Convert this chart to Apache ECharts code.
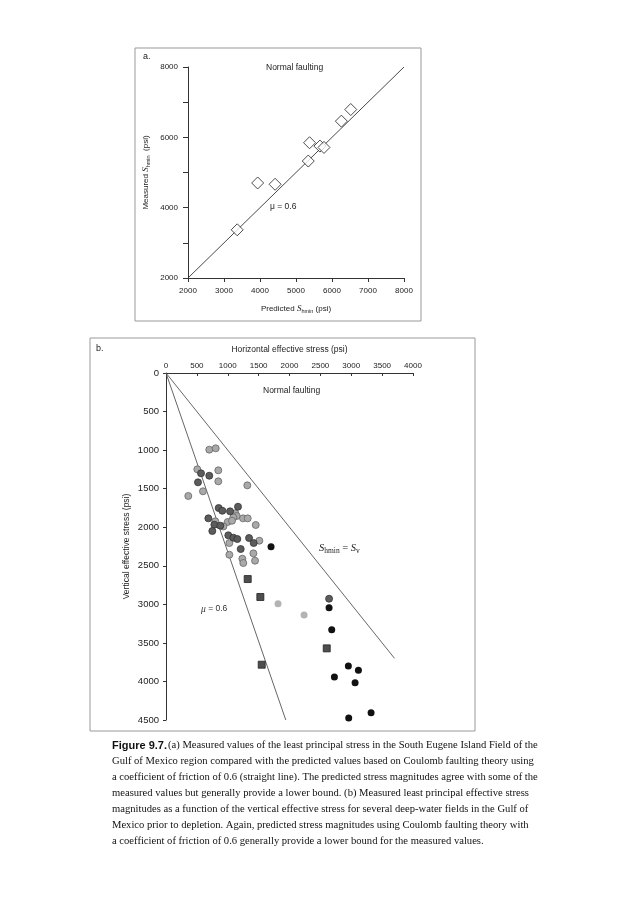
<!DOCTYPE html>
<html><head><meta charset="utf-8">
<script src="https://cdn.jsdelivr.net/npm/echarts@6/dist/echarts.min.js"></script>
<style>html,body{margin:0;padding:0;background:#fff}#c{width:633px;height:900px}</style>
</head><body><div id="c"></div>
<script>
// Panel a: predicted vs measured Shmin (psi)
const aTicks = [2000, 3000, 4000, 5000, 6000, 7000, 8000];
const aPredicted = [3367, 3935, 4419, 5340, 5377, 5665, 5777, 6260, 6521];
const aMeasured  = [3370, 4702, 4665, 5326, 5846, 5751, 5713, 6460, 6791];
const aLine = [[2000, 2000], [8000, 8000]];

// Panel b: [horizontal effective stress, vertical effective stress] (psi)
const bLight = [[701,994],[805,977],[507,1249],[847,1262],[847,1405],[599,1534],[1317,1457],[361,1595],
  [1123,1820],[1145,1855],[1091,1872],[1247,1885],[1323,1885],[799,1923],[999,1932],[1069,1916],[930,1990],
  [1453,1971],[1026,2205],[1512,2175],[1026,2357],[1415,2339],[1236,2408],[1252,2464],[1442,2434]];
const bDark = [[567,1301],[701,1332],[518,1418],[853,1751],[912,1786],[1037,1794],[1166,1734],[686,1885],
  [783,1967],[880,1980],[750,2049],[1009,2105],[1091,2136],[1155,2153],[1345,2140],[1420,2205],[1210,2283],[2641,2927]];
const bBlack = [[1701,2253],[2641,3044],[2684,3329],[2953,3800],[3116,3856],[2727,3943],[3062,4017],[3321,4406],[2959,4475]];
const bPale = [[1814,2992],[2236,3139]];
const bSquares = [[1323,2672],[1528,2905],[2603,3571],[1550,3783]];
const bMuLine = [[0,0],[1940,4500]];
const bEqualLine = [[0,0],[3700,3700]];

const captionLines = [
  "(a) Measured values of the least principal stress in the South Eugene Island Field of the",
  "Gulf of Mexico region compared with the predicted values based on Coulomb faulting theory using",
  "a coefficient of friction of 0.6 (straight line). The predicted stress magnitudes agree with some of the",
  "measured values but generally provide a lower bound. (b) Measured least principal effective stress",
  "magnitudes as a function of the vertical effective stress for several deep-water fields in the Gulf of",
  "Mexico prior to depletion. Again, predicted stress magnitudes using Coulomb faulting theory with",
  "a coefficient of friction of 0.6 generally provide a lower bound for the measured values."
];

const sans = "'Liberation Sans', Arial, sans-serif";
const serif = "'Liberation Serif', 'Times New Roman', serif";
const axC = '#333';
const plain = v => String(v);

const chart = echarts.init(document.getElementById('c'), null, {renderer: 'canvas'});

const circleStyle = (fill, border) => ({color: fill, borderColor: border, borderWidth: border ? 0.8 : 0, opacity: 1});

const captionGraphics = captionLines.map((t, i) => ({
  type: 'text', left: i === 0 ? 168 : 112, top: 740 + i * 16,
  style: {text: t, font: '10.6px ' + serif, fill: '#111'}
}));

chart.setOption({
  animation: false,
  grid: [
    {left: 188, top: 67, width: 216, height: 211},
    {left: 166, top: 373, width: 247, height: 347}
  ],
  xAxis: [
    {gridIndex: 0, type: 'value', min: 2000, max: 8000, interval: 1000,
     name: '{t|Predicted }{i|S}{s|hmin}{t| (psi)}', nameLocation: 'middle', nameGap: 26,
     nameTextStyle: {rich: {t: {fontFamily: sans, fontSize: 8, color: '#222'}, i: {fontFamily: serif, fontStyle: 'italic', fontSize: 9, color: '#222'}, s: {fontFamily: sans, fontSize: 5.5, color: '#222', verticalAlign: 'bottom', padding: [4,0,0,0]}}},
     axisLine: {lineStyle: {color: axC, width: 1}}, axisTick: {length: 4, lineStyle: {color: axC}},
     axisLabel: {fontFamily: sans, fontSize: 8, color: '#222', margin: 9, formatter: plain}, splitLine: {show: false}},
    {gridIndex: 1, type: 'value', min: 0, max: 4000, interval: 500, position: 'top',
     name: 'Horizontal effective stress (psi)', nameLocation: 'middle', nameGap: 19,
     nameTextStyle: {fontFamily: sans, fontSize: 8.5, color: '#222'},
     axisLine: {lineStyle: {color: axC, width: 1}}, axisTick: {length: 3, inside: true, lineStyle: {color: axC}},
     axisLabel: {fontFamily: sans, fontSize: 8, color: '#222', margin: 3, formatter: plain}, splitLine: {show: false}}
  ],
  yAxis: [
    {gridIndex: 0, type: 'value', min: 2000, max: 8000, interval: 1000,
     name: '{t|Measured }{i|S}{s|hmin}{t|  (psi)}', nameLocation: 'middle', nameGap: 37, nameRotate: 90,
     nameTextStyle: {rich: {t: {fontFamily: sans, fontSize: 8, color: '#222'}, i: {fontFamily: serif, fontStyle: 'italic', fontSize: 9, color: '#222'}, s: {fontFamily: sans, fontSize: 5.5, color: '#222', verticalAlign: 'bottom', padding: [4,0,0,0]}}},
     axisLine: {show: true, lineStyle: {color: axC, width: 1}}, axisTick: {show: true, length: 5, lineStyle: {color: axC}},
     axisLabel: {fontFamily: sans, fontSize: 8, color: '#222', margin: 10, formatter: v => (v % 2000 === 0 ? String(v) : '')}, splitLine: {show: false}},
    {gridIndex: 1, type: 'value', min: 0, max: 4500, interval: 500, inverse: true,
     name: 'Vertical effective stress (psi)', nameLocation: 'middle', nameGap: 35, nameRotate: 90,
     nameTextStyle: {fontFamily: sans, fontSize: 8.5, color: '#222'},
     axisLine: {show: true, lineStyle: {color: axC, width: 1}}, axisTick: {show: true, length: 3, lineStyle: {color: axC}},
     axisLabel: {fontFamily: sans, fontSize: 9.5, color: '#222', margin: 7, formatter: plain}, splitLine: {show: false}}
  ],
  series: [
    {type: 'line', xAxisIndex: 0, yAxisIndex: 0, data: aLine, symbol: 'none', lineStyle: {color: '#333', width: 0.9}, z: 2},
    {type: 'scatter', xAxisIndex: 0, yAxisIndex: 0, data: aPredicted.map((x, i) => [x, aMeasured[i]]),
     symbol: 'diamond', symbolSize: [12, 12], itemStyle: {color: '#fff', borderColor: '#222', borderWidth: 1}, z: 3},
    {type: 'line', xAxisIndex: 1, yAxisIndex: 1, data: bMuLine, symbol: 'none', lineStyle: {color: '#555', width: 0.9}, z: 2},
    {type: 'line', xAxisIndex: 1, yAxisIndex: 1, data: bEqualLine, symbol: 'none', lineStyle: {color: '#555', width: 0.9}, z: 2},
    {type: 'scatter', xAxisIndex: 1, yAxisIndex: 1, data: bLight, symbolSize: 7, itemStyle: circleStyle('#a9a9a9', '#666'), z: 3},
    {type: 'scatter', xAxisIndex: 1, yAxisIndex: 1, data: bDark, symbolSize: 7, itemStyle: circleStyle('#5c5c5c', '#333'), z: 4},
    {type: 'scatter', xAxisIndex: 1, yAxisIndex: 1, data: bBlack, symbolSize: 7, itemStyle: circleStyle('#111', null), z: 4},
    {type: 'scatter', xAxisIndex: 1, yAxisIndex: 1, data: bPale, symbolSize: 7, itemStyle: circleStyle('#b3b3b3', null), z: 4},
    {type: 'scatter', xAxisIndex: 1, yAxisIndex: 1, data: bSquares, symbol: 'rect', symbolSize: 7, itemStyle: circleStyle('#4e4e4e', '#222'), z: 4}
  ],
  graphic: [
    {type: 'rect', shape: {x: 135, y: 48, width: 286, height: 273}, style: {fill: 'none', stroke: '#999', lineWidth: 1}, silent: true},
    {type: 'rect', shape: {x: 90, y: 338, width: 385, height: 393}, style: {fill: 'none', stroke: '#999', lineWidth: 1}, silent: true},
    {type: 'text', left: 143, top: 52, style: {text: 'a.', font: '9px ' + sans, fill: '#222'}},
    {type: 'text', left: 96, top: 344, style: {text: 'b.', font: '9px ' + sans, fill: '#222'}},
    {type: 'text', left: 266, top: 63, style: {text: 'Normal faulting', font: '8.5px ' + sans, fill: '#222'}},
    {type: 'text', left: 270, top: 202, style: {text: 'μ = 0.6', font: '8.5px ' + sans, fill: '#222'}},
    {type: 'text', left: 263, top: 386, style: {text: 'Normal faulting', font: '8.5px ' + sans, fill: '#222'}},
    {type: 'text', left: 201, top: 604, style: {text: '{i|μ} = 0.6', font: '8.5px ' + sans, fill: '#333',
      rich: {i: {fontStyle: 'italic', fontFamily: serif, fontSize: 9.5, fill: '#333'}}}},
    {type: 'text', left: 319, top: 543, style: {text: '{i|S}{s|hmin}{t| = }{i|S}{s|v}',
      rich: {i: {fontStyle: 'italic', fontFamily: serif, fontSize: 10.5, fill: '#222'},
             s: {fontFamily: serif, fontSize: 7.5, fill: '#222', padding: [5,0,0,0]},
             t: {fontFamily: serif, fontSize: 10.5, fill: '#222'}}}},
    {type: 'text', left: 112, top: 740, style: {text: 'Figure 9.7.', font: 'bold 11px ' + "'Liberation Sans Narrow', " + sans, fill: '#111'}}
  ].concat(captionGraphics)
});
</script></body></html>
